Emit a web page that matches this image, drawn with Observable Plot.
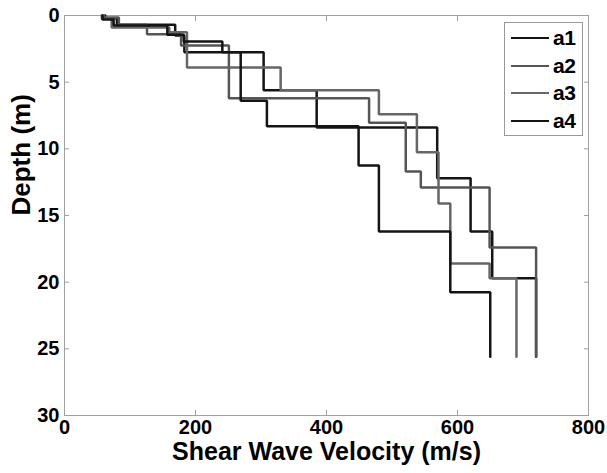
<!DOCTYPE html>
<html><head><meta charset="utf-8">
<script src="https://cdn.jsdelivr.net/npm/d3@7"></script>
<script src="https://cdn.jsdelivr.net/npm/@observablehq/plot@0.6"></script>
<style>
body{margin:0;background:#fff;}
#wrap{position:relative;width:607px;height:473px;font-family:"Liberation Sans",Arial,sans-serif;}
#wrap svg{position:absolute;left:0;top:0;}
#legend{position:absolute;left:504px;top:22px;width:79px;height:114px;border:1px solid #999;background:#fff;box-sizing:border-box;}
.row{position:absolute;left:6px;height:22px;display:flex;align-items:center;}
.sw{width:38px;height:0;border-top:2.5px solid;margin-right:4px;}
.lab{font-weight:bold;font-size:21px;color:#000;letter-spacing:-0.5px;}
</style></head><body><div id="wrap"></div>
<script>
// Series names and colours
const seriesNames = ["a1", "a2", "a3", "a4"];
const seriesColors = ["#141414", "#555555", "#666666", "#141414"];

// Shear wave velocity (m/s) of each layer and depth (m) of each layer top
const a1Vel = [62, 80, 169, 183, 304, 385, 569, 620, 653, 720];
const a1Top = [0, 0.2, 0.7, 1.5, 2.75, 5.6, 8.4, 12.2, 16.2, 19.7];
const a2Vel = [60, 83, 126, 178, 251, 465, 521, 544, 649, 720];
const a2Top = [0, 0.15, 0.7, 1.4, 2.25, 6.2, 8.05, 11.7, 12.9, 17.4];
const a3Vel = [57, 72, 160, 187, 330, 480, 538, 571, 589, 649, 690];
const a3Top = [0, 0.25, 0.9, 1.25, 3.9, 5.6, 7.4, 10.25, 14.1, 18.6, 19.7];
const a4Vel = [58, 75, 157, 182, 241, 269, 309, 449, 480, 589, 650];
const a4Top = [0, 0.3, 0.75, 1.45, 1.95, 2.75, 6.4, 8.3, 11.25, 16.2, 20.75];
const profileBottom = 25.6;

// Axis ticks
const xTicks = [0, 200, 400, 600, 800];
const yTicks = [0, 5, 10, 15, 20, 25, 30];

const profiles = [[a1Vel, a1Top], [a2Vel, a2Top], [a3Vel, a3Top], [a4Vel, a4Top]];
const points = [];
profiles.forEach(([vel, top], s) => {
  vel.forEach((v, i) => {
    points.push({series: seriesNames[s], v, d: top[i]});
    points.push({series: seriesNames[s], v, d: i + 1 < top.length ? top[i + 1] : profileBottom});
  });
});

const gray = "#a0a0a0";
const chart = Plot.plot({
  width: 607, height: 473,
  marginLeft: 64, marginRight: 19, marginTop: 15, marginBottom: 58,
  style: {fontFamily: "'Liberation Sans', Arial, sans-serif", background: "#fff", overflow: "visible"},
  x: {domain: [0, 800]},
  y: {domain: [0, 30], reverse: true},
  color: {domain: seriesNames, range: seriesColors},
  marks: [
    Plot.frame({stroke: gray}),
    Plot.axisX(xTicks, {anchor: "bottom", tickSize: -5, stroke: gray, tickFormat: () => "", label: null}),
    Plot.axisX(xTicks, {anchor: "top", tickSize: -5, stroke: gray, tickFormat: () => "", label: null}),
    Plot.axisY(yTicks, {anchor: "left", tickSize: -5, stroke: gray, tickFormat: () => "", label: null}),
    Plot.axisY(yTicks, {anchor: "right", tickSize: -5, stroke: gray, tickFormat: () => "", label: null}),
    Plot.axisX(xTicks, {anchor: "bottom", tickSize: 0, tickPadding: 4, fontSize: 20, fontWeight: "bold", fill: "#000", label: null}),
    Plot.axisY(yTicks, {anchor: "left", tickSize: 0, tickPadding: 5, fontSize: 20, fontWeight: "bold", fill: "#000", label: null}),
    Plot.line(points, {x: "v", y: "d", z: "series", stroke: "series", strokeWidth: 2.5, strokeLinejoin: "miter"}),
    Plot.text(["Shear Wave Velocity (m/s)"], {frameAnchor: "bottom", dy: 44, fontSize: 25, fontWeight: "bold", fill: "#000"}),
    Plot.text(["Depth (m)"], {frameAnchor: "left", dx: -43, rotate: -90, fontSize: 26, fontWeight: "bold", fill: "#000"})
  ]
});
const wrap = document.getElementById("wrap");
wrap.appendChild(chart);

const legend = document.createElement("div");
legend.id = "legend";
const rowTops = [4, 31.5, 59, 86.5];
seriesNames.forEach((name, i) => {
  const row = document.createElement("div");
  row.className = "row";
  row.style.top = rowTops[i] + "px";
  const sw = document.createElement("span");
  sw.className = "sw";
  sw.style.borderTopColor = seriesColors[i];
  const lab = document.createElement("span");
  lab.className = "lab";
  lab.textContent = name;
  row.appendChild(sw); row.appendChild(lab);
  legend.appendChild(row);
});
wrap.appendChild(legend);
</script>
</body></html>
